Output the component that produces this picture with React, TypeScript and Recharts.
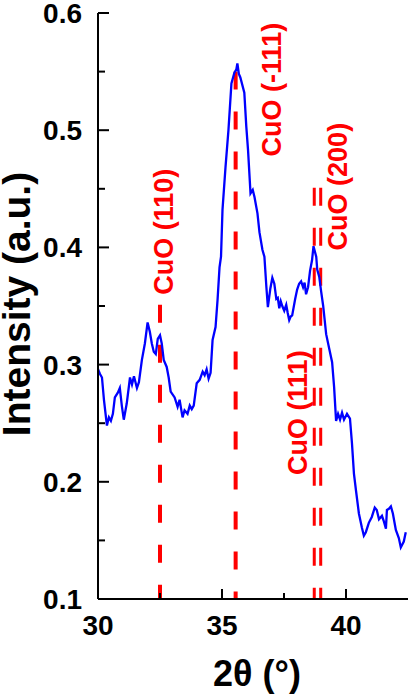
import { Line, LineChart, ReferenceLine, XAxis, YAxis } from 'recharts'

// 2θ positions (deg) and measured intensity (a.u.)
const twoTheta = [
  30.0, 30.08, 30.16, 30.24, 30.36, 30.44, 30.52, 30.6, 30.68, 30.8, 30.88, 30.96, 31.04, 31.16, 31.29, 31.37,
  31.45, 31.57, 31.65, 31.77, 31.89, 32.0, 32.09, 32.17, 32.25, 32.33, 32.41, 32.5, 32.57, 32.65, 32.77, 32.85,
  32.93, 33.09, 33.21, 33.29, 33.41, 33.49, 33.61, 33.7, 33.78, 33.86, 33.98, 34.1, 34.22, 34.3, 34.38, 34.46,
  34.54, 34.62, 34.74, 34.82, 34.9, 34.96, 35.02, 35.14, 35.26, 35.38, 35.5, 35.58, 35.62, 35.68, 35.74, 35.9,
  35.98, 36.05, 36.15, 36.24, 36.31, 36.43, 36.51, 36.63, 36.71, 36.79, 36.85, 36.95, 37.03, 37.11, 37.19, 37.25,
  37.31, 37.37, 37.43, 37.51, 37.59, 37.65, 37.71, 37.77, 37.83, 37.95, 38.03, 38.11, 38.19, 38.27, 38.33, 38.39,
  38.47, 38.55, 38.63, 38.69, 38.8, 38.84, 38.92, 39.0, 39.08, 39.2, 39.32, 39.44, 39.52, 39.6, 39.68, 39.76,
  39.84, 39.92, 40.04, 40.16, 40.24, 40.32, 40.4, 40.52, 40.64, 40.72, 40.8, 40.92, 41.04, 41.16, 41.24, 41.33,
  41.45, 41.53, 41.61, 41.65, 41.73, 41.81, 41.89, 42.01, 42.13, 42.21, 42.33, 42.41
]
const intensity = [
  0.296, 0.292, 0.289, 0.27, 0.248, 0.255, 0.252, 0.258, 0.272, 0.276, 0.28, 0.265, 0.253, 0.267, 0.289, 0.283,
  0.29, 0.28, 0.285, 0.304, 0.318, 0.336, 0.328, 0.318, 0.311, 0.309, 0.322, 0.325, 0.318, 0.304, 0.298, 0.289,
  0.277, 0.272, 0.264, 0.27, 0.255, 0.261, 0.258, 0.265, 0.262, 0.265, 0.284, 0.287, 0.294, 0.291, 0.296, 0.288,
  0.293, 0.321, 0.332, 0.355, 0.383, 0.392, 0.432, 0.468, 0.5, 0.54, 0.549, 0.552, 0.557, 0.548, 0.545, 0.532,
  0.503, 0.483, 0.446, 0.449, 0.443, 0.429, 0.413, 0.398, 0.392, 0.366, 0.349, 0.365, 0.374, 0.369, 0.356, 0.357,
  0.348, 0.354, 0.35, 0.346, 0.351, 0.344, 0.338, 0.341, 0.342, 0.356, 0.364, 0.369, 0.371, 0.366, 0.37, 0.36,
  0.366, 0.38, 0.389, 0.401, 0.392, 0.381, 0.375, 0.362, 0.35, 0.326, 0.314, 0.302, 0.281, 0.252, 0.258, 0.253,
  0.259, 0.253, 0.258, 0.254, 0.233, 0.207, 0.193, 0.173, 0.161, 0.154, 0.157, 0.165, 0.17, 0.178, 0.176, 0.168,
  0.171, 0.166, 0.16, 0.176, 0.177, 0.179, 0.173, 0.159, 0.152, 0.144, 0.149, 0.157
]

// CuO reference reflections
const peakPositions = [32.5, 35.55, 38.72, 38.98]
const peakTops = [0.351, 0.55, 0.451, 0.451]
const peakLabels = ['CuO (110)', 'CuO (-111)', 'CuO (111)', 'CuO (200)']

const xTicks = [30, 32.5, 35, 37.5, 40]
const yTicks = [0.1, 0.15, 0.2, 0.25, 0.3, 0.35, 0.4, 0.45, 0.5, 0.55, 0.6]

const font = '"Liberation Sans", Arial, sans-serif'
const red = '#ff0000'

// where each peak label sits relative to the top of its line (px)
const labelPlacement = [
  { dx: 13, dy: -73 },
  { dx: 45, dy: 18 },
  { dx: -7, dy: 225 },
  { dx: 26, dy: -1 }
]
const lineWidths = [4, 4, 3, 3]

const isMajor = (v: number, step: number) => Math.abs(v / step - Math.round(v / step)) < 1e-6

const BottomTick = ({ x, y, payload }: any) => {
  const major = isMajor(payload.value, 5)
  return (
    <g>
      <line x1={x} x2={x} y1={y} y2={y - (major ? 10 : 6)} stroke="#000" strokeWidth={2} />
      {major && (
        <text x={x} y={y + 36} textAnchor="middle" fontFamily={font} fontWeight="bold" fontSize={28} fill="#000">
          {payload.value}
        </text>
      )}
    </g>
  )
}

const TopTick = ({ x, y, payload }: any) => (
  <line x1={x} x2={x} y1={y} y2={y + (isMajor(payload.value, 5) ? 10 : 6)} stroke="#000" strokeWidth={2} />
)

const LeftTick = ({ x, y, payload }: any) => {
  const major = isMajor(payload.value, 0.1)
  return (
    <g>
      <line x1={x} x2={x + (major ? 11 : 7)} y1={y} y2={y} stroke="#000" strokeWidth={2} />
      {major && (
        <text x={x - 16} y={y + 10} textAnchor="end" fontFamily={font} fontWeight="bold" fontSize={28} fill="#000">
          {payload.value.toFixed(1)}
        </text>
      )}
    </g>
  )
}

const RightTick = ({ x, y, payload }: any) => (
  <line x1={x} x2={x - (isMajor(payload.value, 0.1) ? 11 : 7)} y1={y} y2={y} stroke="#000" strokeWidth={2} />
)

const peakLabel = (text: string, i: number) => (props: any) => {
  const vb = props.viewBox || {}
  const bx = vb.x + labelPlacement[i].dx
  const cy = vb.y + labelPlacement[i].dy
  return (
    <text
      x={bx}
      y={cy}
      transform={`rotate(-90 ${bx} ${cy})`}
      textAnchor="middle"
      fontFamily={font}
      fontWeight="bold"
      fontSize={27}
      fill={red}
    >
      {text}
    </text>
  )
}

export default function App() {
  const data = twoTheta.map((t, i) => ({ t, y: intensity[i] }))
  const axisLine = { stroke: '#000', strokeWidth: 2 }

  return (
    <div style={{ position: 'absolute', left: 0, top: 0, width: 410, height: 695, background: '#fff' }}>
      <LineChart width={410} height={695} data={data} margin={{ top: 13, right: 2, bottom: 0, left: 0 }}>
        <XAxis
          dataKey="t"
          type="number"
          domain={[30, 42.5]}
          ticks={xTicks}
          interval={0}
          allowDataOverflow
          height={96}
          tickSize={0}
          tickMargin={0}
          tickLine={false}
          axisLine={axisLine}
          tick={<BottomTick />}
          label={(p: any) => (
            <text
              x={p.viewBox.x + p.viewBox.width / 2 + 4}
              y={p.viewBox.y + 87}
              textAnchor="middle"
              fontFamily={font}
              fontWeight="bold"
              fontSize={36}
              fill="#000"
            >
              2θ (°)
            </text>
          )}
        />
        <XAxis
          xAxisId="top"
          orientation="top"
          type="number"
          domain={[30, 42.5]}
          ticks={xTicks}
          interval={0}
          allowDataOverflow
          height={0}
          tickSize={0}
          tickMargin={0}
          tickLine={false}
          axisLine={axisLine}
          tick={<TopTick />}
        />
        <YAxis
          type="number"
          domain={[0.1, 0.6]}
          ticks={yTicks}
          interval={0}
          allowDataOverflow
          width={98}
          tickSize={0}
          tickMargin={0}
          tickLine={false}
          axisLine={axisLine}
          tick={<LeftTick />}
          label={(p: any) => {
            const cx = 30
            const cy = p.viewBox.y + p.viewBox.height / 2 - 2
            return (
              <text
                x={cx}
                y={cy}
                transform={`rotate(-90 ${cx} ${cy})`}
                textAnchor="middle"
                fontFamily={font}
                fontWeight="bold"
                fontSize={39}
                fill="#000"
              >
                Intensity (a.u.)
              </text>
            )
          }}
        />
        <YAxis
          yAxisId="right"
          orientation="right"
          type="number"
          domain={[0.1, 0.6]}
          ticks={yTicks}
          interval={0}
          allowDataOverflow
          width={0}
          tickSize={0}
          tickMargin={0}
          tickLine={false}
          axisLine={axisLine}
          tick={<RightTick />}
        />
        {peakPositions.map((p, i) => (
          <ReferenceLine
            key={peakLabels[i]}
            segment={[{ x: p, y: peakTops[i] }, { x: p, y: 0.1 }]}
            stroke={red}
            strokeWidth={lineWidths[i]}
            strokeDasharray="18 22"
            label={peakLabel(peakLabels[i], i)}
          />
        ))}
        <Line
          type="linear"
          dataKey="y"
          stroke="#0000ff"
          strokeWidth={2.3}
          dot={false}
          isAnimationActive={false}
        />
      </LineChart>
    </div>
  )
}
